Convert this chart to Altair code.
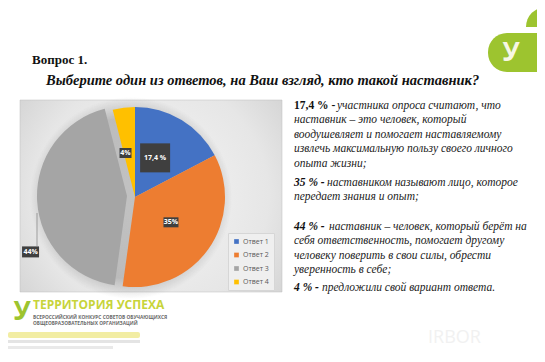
import math
import altair as alt
import pandas as pd

# ---------------- data ----------------
CATEGORIES = ["Ответ 1", "Ответ 2", "Ответ 3", "Ответ 4"]
VALUES = [17.4, 35, 44, 4]
LABELS = ["17,4 %", "35%", "44%", "4%"]
COLORS = ["#4472C4", "#ED7D31", "#A5A5A5", "#FFC000"]
EXPLODED = "Ответ 3"

TITLE = "Вопрос 1."
QUESTION = "Выберите один из ответов, на Ваш взгляд, кто такой наставник?"

NOTE_PREFIX = ["17,4 % - ", "", "", "", "", "35 %  - ", "", "44 %  - ", "", "", "", "4 % - "]
NOTE_TEXT = [
    "участника опроса считают, что",
    "наставник – это человек, который",
    "воодушевляет и помогает наставляемому",
    "извлечь максимальную пользу своего личного",
    "опыта жизни;",
    "наставником называют лицо, которое",
    "передает знания и опыт;",
    "наставник – человек, который берёт на",
    "себя ответственность, помогает другому",
    "человеку поверить в свои силы, обрести",
    "уверенность в себе;",
    "предложили свой вариант ответа.",
]

LOGO_TITLE = "ТЕРРИТОРИЯ УСПЕХА"
LOGO_SUB = ["ВСЕРОССИЙСКИЙ КОНКУРС СОВЕТОВ ОБУЧАЮЩИХСЯ", "ОБЩЕОБРАЗОВАТЕЛЬНЫХ ОРГАНИЗАЦИЙ"]
WATERMARK = "IRBOR"

# ---------------- layout (chart pixel coords) ----------------
W, H = 529, 346
CX, CY, R = 127, 189, 90
EXPLODE_DX, EXPLODE_DY = -8, -1
LABEL_R = [44, 44, 118, 45]
LABEL_TURN = [-4, 0, -24.5, -5]
LABEL_BOX_W = [30, 15, 17, 12]
LABEL_BOX_H = [29, 10, 11, 10]
NOTE_Y = [98, 112, 127, 141, 156, 175, 189, 219, 233, 248, 262, 280]
NOTE_X0 = 286
NOTE_REST_X = [329, 286, 286, 286, 286, 319, 286, 321, 286, 286, 286, 314]
SERIF = "Liberation Serif, Times New Roman, DejaVu Serif, serif"
SANS = "Open Sans, Liberation Sans, sans-serif"

TOTAL = sum(VALUES)
one = pd.DataFrame({"k": [0]})

# ---------------- pie data ----------------
pie = pd.DataFrame({"cat": CATEGORIES, "value": VALUES, "label": LABELS,
                    "lr": LABEL_R, "turn": LABEL_TURN,
                    "bw": LABEL_BOX_W, "bh": LABEL_BOX_H})
pie["end"] = pie["value"].cumsum()
pie["start"] = pie["end"] - pie["value"]

theta_scale = alt.Scale(domain=[0, TOTAL], range=[0, 2 * math.pi])
color_scale = alt.Scale(domain=CATEGORIES, range=COLORS)

panel = alt.Chart(one).mark_rect(
    fill=alt.RadialGradient(
        gradient="radial", x1=0.5, y1=0.5, r1=0, x2=0.5, y2=0.5, r2=0.75,
        stops=[alt.GradientStop(offset=0, color="#f6f6f6"),
               alt.GradientStop(offset=0.6, color="#e6e6e6"),
               alt.GradientStop(offset=1, color="#c9c9c9")]),
    stroke="#bfbfbf", strokeWidth=0.5
).encode(x=alt.value(12), x2=alt.value(274), y=alt.value(92), y2=alt.value(284))

shadow = alt.Chart(one).mark_arc(
    theta=0, theta2=2 * math.pi, radius=101,
    fill=alt.RadialGradient(
        gradient="radial", x1=0.5, y1=0.5, r1=0, x2=0.5, y2=0.5, r2=0.5,
        stops=[alt.GradientStop(offset=0.8, color="rgba(100,100,100,0.35)"),
               alt.GradientStop(offset=1, color="rgba(100,100,100,0)")])
).encode(x=alt.value(CX - 4), y=alt.value(CY + 1))

main_slices = alt.Chart(pie).transform_filter(
    alt.datum.cat != EXPLODED
).mark_arc(radius=R).encode(
    theta=alt.Theta("start:Q", scale=theta_scale, stack=None),
    theta2="end:Q",
    color=alt.Color("cat:N", scale=color_scale,
                    legend=alt.Legend(orient="none", legendX=220, legendY=225, title=None,
                                      symbolType="square", symbolSize=22, symbolStrokeWidth=0,
                                      labelFontSize=7, labelFont=SANS, labelColor="#595959",
                                      fillColor="#efefef", strokeColor="#d6d6d6",
                                      padding=5, rowPadding=5.5, labelOffset=3)),
    x=alt.value(CX), y=alt.value(CY),
)

exploded_slice = alt.Chart(pie).transform_filter(
    alt.datum.cat == EXPLODED
).mark_arc(radius=R).encode(
    theta=alt.Theta("start:Q", scale=theta_scale, stack=None),
    theta2="end:Q",
    color=alt.Color("cat:N", scale=color_scale, legend=None),
    x=alt.value(CX + EXPLODE_DX), y=alt.value(CY + EXPLODE_DY),
)

lab_base = alt.Chart(pie).transform_calculate(
    ang=f"((datum.start + datum.value / 2) / {TOTAL}) * 2 * PI + datum.turn * PI / 180"
).transform_calculate(
    lx=f"{CX} + datum.lr * sin(datum.ang)",
    ly=f"{CY} - datum.lr * cos(datum.ang)",
).transform_calculate(
    x1="datum.lx - datum.bw / 2", x2="datum.lx + datum.bw / 2",
    y1="datum.ly - datum.bh / 2", y2="datum.ly + datum.bh / 2",
)

lab_boxes = lab_base.mark_rect(color="#3f3f3f").encode(
    x=alt.X("x1:Q", scale=None, axis=None), x2="x2:Q",
    y=alt.Y("y1:Q", scale=None, axis=None), y2="y2:Q",
)
lab_text = lab_base.mark_text(font=SANS, fontSize=7, fontWeight="bold",
                              color="white", baseline="middle", align="center").encode(
    x=alt.X("lx:Q", scale=None, axis=None), y=alt.Y("ly:Q", scale=None, axis=None),
    text="label:N",
)
leader = alt.Chart(one).mark_rule(color="#7f7f7f", strokeWidth=0.7).encode(
    x=alt.value(29), y=alt.value(205), y2=alt.value(239))

# ---------------- texts ----------------
title = alt.Chart(pd.DataFrame({"t": [TITLE]})).mark_text(
    font=SERIF, fontSize=13, fontWeight="bold", color="#111111",
    align="left", baseline="alphabetic").encode(x=alt.value(24), y=alt.value(56), text="t:N")
question = alt.Chart(pd.DataFrame({"t": [QUESTION]})).mark_text(
    font=SERIF, fontSize=14.5, fontWeight="bold", fontStyle="italic", color="#111111",
    align="left", baseline="alphabetic").encode(x=alt.value(38), y=alt.value(77), text="t:N")

notes = pd.DataFrame({"p": NOTE_PREFIX, "t": NOTE_TEXT, "y": NOTE_Y, "xr": NOTE_REST_X})
notes["x0"] = NOTE_X0
notes["first"] = [i == 0 for i in range(len(notes))]

note_rest = alt.Chart(notes).mark_text(
    font=SERIF, fontSize=11.5, fontStyle="italic", color="#222222",
    align="left", baseline="middle").encode(
    x=alt.X("xr:Q", scale=None, axis=None), y=alt.Y("y:Q", scale=None, axis=None), text="t:N")
note_pref_first = alt.Chart(notes).transform_filter("datum.p != '' && datum.first").mark_text(
    font=SERIF, fontSize=11.5, fontWeight="bold", color="#111111",
    align="left", baseline="middle").encode(
    x=alt.X("x0:Q", scale=None, axis=None), y=alt.Y("y:Q", scale=None, axis=None), text="p:N")
note_pref = alt.Chart(notes).transform_filter("datum.p != '' && !datum.first").mark_text(
    font=SERIF, fontSize=11.5, fontWeight="bold", fontStyle="italic", color="#111111",
    align="left", baseline="middle").encode(
    x=alt.X("x0:Q", scale=None, axis=None), y=alt.Y("y:Q", scale=None, axis=None), text="p:N")

# ---------------- logos ----------------
green = "#9dc42f"
top_circle = alt.Chart(one).mark_arc(theta=1.5 * math.pi, theta2=2 * math.pi, radius=20,
                                     color=green).encode(x=alt.value(538), y=alt.value(19))
pill = alt.Chart(one).mark_rect(color=green, cornerRadius=19).encode(
    x=alt.value(480), x2=alt.value(560), y=alt.value(25), y2=alt.value(64))
pill_glyph = alt.Chart(pd.DataFrame({"t": ["У"]})).mark_text(
    font=SANS, fontSize=26, fontWeight="bold", color="#f7f7e4",
    align="center", baseline="middle").encode(x=alt.value(503), y=alt.value(45), text="t:N")

logo_glyph = alt.Chart(pd.DataFrame({"t": ["У"]})).mark_text(
    font=SANS, fontSize=26, fontWeight="bold", color=green,
    align="center", baseline="middle").encode(x=alt.value(14), y=alt.value(304), text="t:N")
logo_title = alt.Chart(pd.DataFrame({"t": [LOGO_TITLE]})).mark_text(
    font=SANS, fontSize=12, fontWeight="bold", color="#c7d43a",
    align="left", baseline="middle").encode(x=alt.value(25), y=alt.value(297), text="t:N")
logo_sub = alt.Chart(pd.DataFrame({"t": LOGO_SUB, "y": [310, 316]})).mark_text(
    font=SANS, fontSize=4.8, fontWeight="bold", color="#6a6a6a",
    align="left", baseline="middle").encode(
    x=alt.value(25), y=alt.Y("y:Q", scale=None, axis=None), text="t:N")
blur_yellow = alt.Chart(one).mark_rect(color="#efe98c", opacity=0.8, cornerRadius=2).encode(
    x=alt.value(0), x2=alt.value(132), y=alt.value(324), y2=alt.value(330))
blur_gray1 = alt.Chart(one).mark_rect(color="#dddddd", opacity=0.8).encode(
    x=alt.value(0), x2=alt.value(132), y=alt.value(332), y2=alt.value(335))
blur_gray2 = alt.Chart(one).mark_rect(color="#e3e3e3", opacity=0.8).encode(
    x=alt.value(0), x2=alt.value(105), y=alt.value(338), y2=alt.value(341))
watermark = alt.Chart(pd.DataFrame({"t": [WATERMARK]})).mark_text(
    font=SANS, fontSize=18, color="#f1f1f1", align="left", baseline="middle").encode(
    x=alt.value(420), y=alt.value(330), text="t:N")

chart = alt.layer(
    panel, shadow, main_slices, exploded_slice, lab_boxes, lab_text, leader,
    title, question, note_rest, note_pref_first, note_pref,
    top_circle, pill, pill_glyph, logo_glyph, logo_title, logo_sub,
    blur_yellow, blur_gray1, blur_gray2, watermark,
).properties(width=W, height=H, padding=0, autosize="none", background="white"
).configure_view(stroke=None)

chart.save("out.html", embed_options={"renderer": "svg", "actions": False})
